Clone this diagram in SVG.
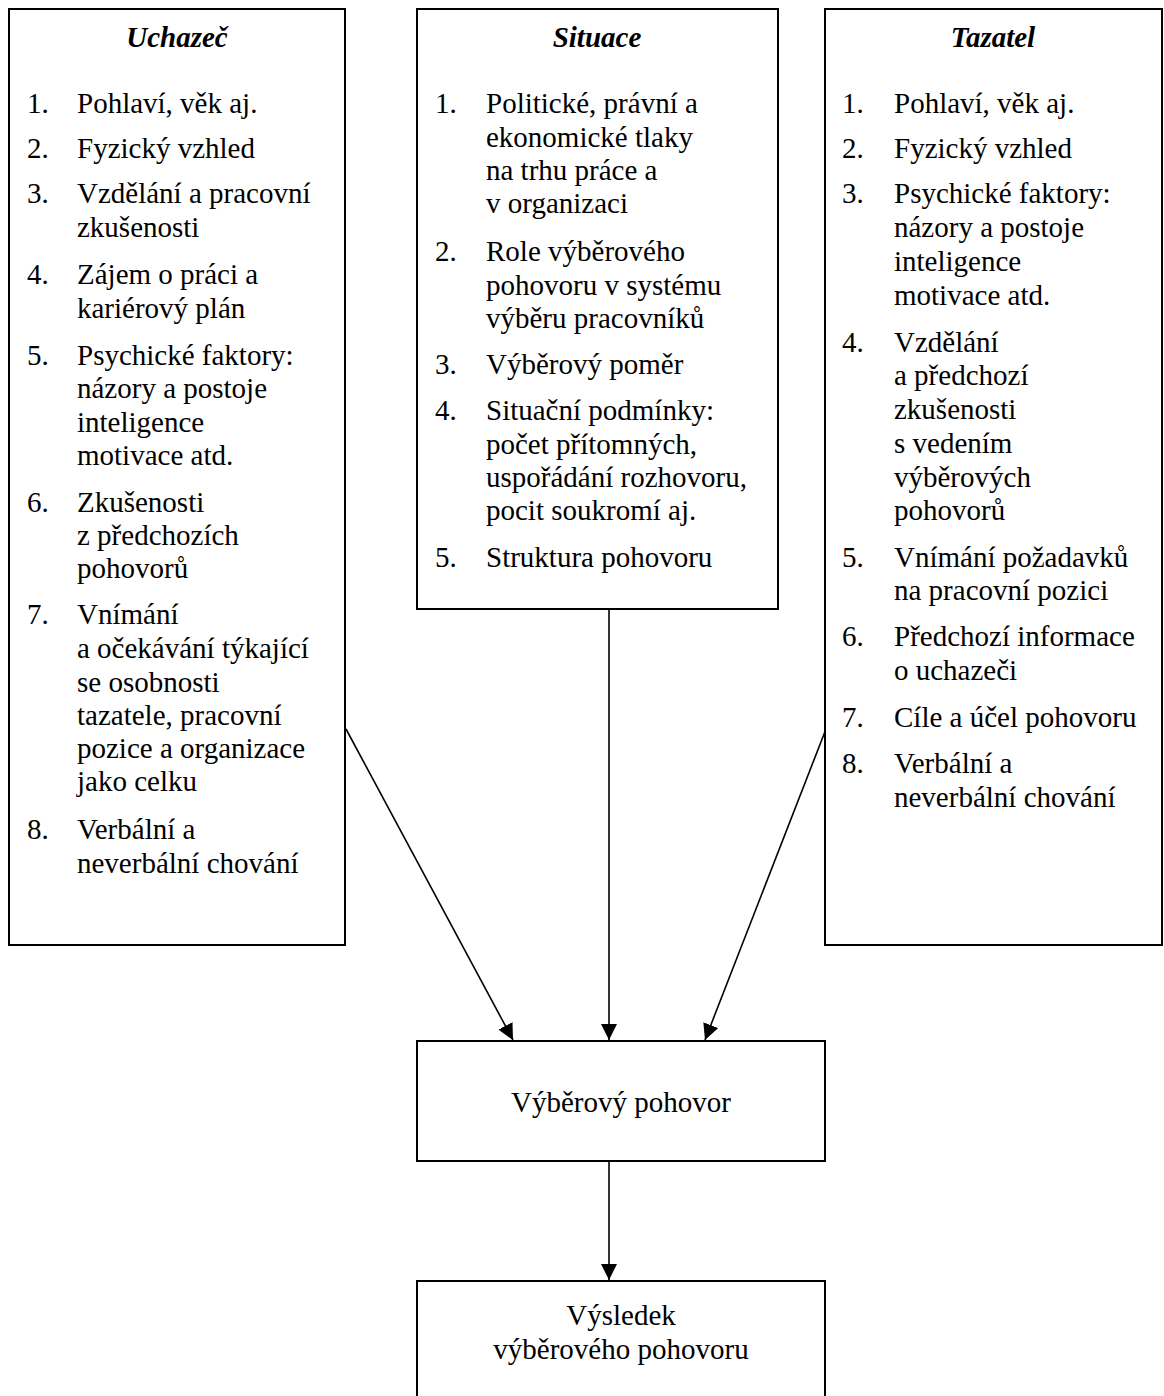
<svg xmlns="http://www.w3.org/2000/svg" width="1164" height="1396" viewBox="0 0 1164 1396">
<style>
  .box { fill: #ffffff; stroke: #000000; stroke-width: 2; }
  .t { font-family: "Liberation Serif", "Times New Roman", serif; font-size: 29px; fill: #000000; }
  .h { font-family: "Liberation Serif", "Times New Roman", serif; font-size: 29px; font-weight: bold; font-style: italic; fill: #000000; text-anchor: middle; }
  .c { text-anchor: middle; }
  .conn { stroke: #000000; stroke-width: 1.6; fill: none; }
</style>
<defs>
  <marker id="arrow" markerUnits="userSpaceOnUse" markerWidth="16" markerHeight="16" viewBox="0 0 16 16" refX="16" refY="8" orient="auto">
    <path d="M0,0 L16,8 L0,16 Z" fill="#000000"/>
  </marker>
</defs>
<rect width="1164" height="1396" fill="#ffffff"/>

<g id="connectors">
  <line class="conn" x1="346" y1="729" x2="513" y2="1040" marker-end="url(#arrow)"/>
  <line class="conn" x1="609" y1="609" x2="609" y2="1040" marker-end="url(#arrow)"/>
  <line class="conn" x1="826" y1="729" x2="705" y2="1040" marker-end="url(#arrow)"/>
  <line class="conn" x1="609" y1="1161" x2="609" y2="1280" marker-end="url(#arrow)"/>
</g>

<g id="uchazec">
  <rect class="box" x="9" y="9" width="336" height="936"/>
  <text class="h" x="177" y="47">Uchazeč</text>
  <text class="t" x="27" y="113">1.</text><text class="t" x="77" y="113">Pohlaví, věk aj.</text>
  <text class="t" x="27" y="158">2.</text><text class="t" x="77" y="158">Fyzický vzhled</text>
  <text class="t" x="27" y="203">3.</text><text class="t" x="77" y="203">Vzdělání a pracovní</text>
  <text class="t" x="77" y="237">zkušenosti</text>
  <text class="t" x="27" y="284">4.</text><text class="t" x="77" y="284">Zájem o práci a</text>
  <text class="t" x="77" y="318">kariérový plán</text>
  <text class="t" x="27" y="365">5.</text><text class="t" x="77" y="365">Psychické faktory:</text>
  <text class="t" x="77" y="398">názory a postoje</text>
  <text class="t" x="77" y="432">inteligence</text>
  <text class="t" x="77" y="465">motivace atd.</text>
  <text class="t" x="27" y="512">6.</text><text class="t" x="77" y="512">Zkušenosti</text>
  <text class="t" x="77" y="545">z předchozích</text>
  <text class="t" x="77" y="578">pohovorů</text>
  <text class="t" x="27" y="624">7.</text><text class="t" x="77" y="624">Vnímání</text>
  <text class="t" x="77" y="658">a očekávání týkající</text>
  <text class="t" x="77" y="692">se osobnosti</text>
  <text class="t" x="77" y="725">tazatele, pracovní</text>
  <text class="t" x="77" y="758">pozice a organizace</text>
  <text class="t" x="77" y="791">jako celku</text>
  <text class="t" x="27" y="839">8.</text><text class="t" x="77" y="839">Verbální a</text>
  <text class="t" x="77" y="873">neverbální chování</text>
</g>

<g id="situace">
  <rect class="box" x="417" y="9" width="361" height="600"/>
  <text class="h" x="597" y="47">Situace</text>
  <text class="t" x="435" y="113">1.</text><text class="t" x="486" y="113">Politické, právní a</text>
  <text class="t" x="486" y="147">ekonomické tlaky</text>
  <text class="t" x="486" y="180">na trhu práce a</text>
  <text class="t" x="486" y="213">v organizaci</text>
  <text class="t" x="435" y="261">2.</text><text class="t" x="486" y="261">Role výběrového</text>
  <text class="t" x="486" y="295">pohovoru v systému</text>
  <text class="t" x="486" y="328">výběru pracovníků</text>
  <text class="t" x="435" y="374">3.</text><text class="t" x="486" y="374">Výběrový poměr</text>
  <text class="t" x="435" y="420">4.</text><text class="t" x="486" y="420">Situační podmínky:</text>
  <text class="t" x="486" y="454">počet přítomných,</text>
  <text class="t" x="486" y="487">uspořádání rozhovoru,</text>
  <text class="t" x="486" y="520">pocit soukromí aj.</text>
  <text class="t" x="435" y="567">5.</text><text class="t" x="486" y="567">Struktura pohovoru</text>
</g>

<g id="tazatel">
  <rect class="box" x="825" y="9" width="337" height="936"/>
  <text class="h" x="993" y="47">Tazatel</text>
  <text class="t" x="842" y="113">1.</text><text class="t" x="894" y="113">Pohlaví, věk aj.</text>
  <text class="t" x="842" y="158">2.</text><text class="t" x="894" y="158">Fyzický vzhled</text>
  <text class="t" x="842" y="203">3.</text><text class="t" x="894" y="203">Psychické faktory:</text>
  <text class="t" x="894" y="237">názory a postoje</text>
  <text class="t" x="894" y="271">inteligence</text>
  <text class="t" x="894" y="305">motivace atd.</text>
  <text class="t" x="842" y="352">4.</text><text class="t" x="894" y="352">Vzdělání</text>
  <text class="t" x="894" y="385">a předchozí</text>
  <text class="t" x="894" y="419">zkušenosti</text>
  <text class="t" x="894" y="453">s vedením</text>
  <text class="t" x="894" y="487">výběrových</text>
  <text class="t" x="894" y="520">pohovorů</text>
  <text class="t" x="842" y="567">5.</text><text class="t" x="894" y="567">Vnímání požadavků</text>
  <text class="t" x="894" y="600">na pracovní pozici</text>
  <text class="t" x="842" y="646">6.</text><text class="t" x="894" y="646">Předchozí informace</text>
  <text class="t" x="894" y="680">o uchazeči</text>
  <text class="t" x="842" y="727">7.</text><text class="t" x="894" y="727">Cíle a účel pohovoru</text>
  <text class="t" x="842" y="773">8.</text><text class="t" x="894" y="773">Verbální a</text>
  <text class="t" x="894" y="807">neverbální chování</text>
</g>

<g id="pohovor">
  <rect class="box" x="417" y="1041" width="408" height="120"/>
  <text class="t c" x="621" y="1112">Výběrový pohovor</text>
</g>

<g id="vysledek">
  <rect class="box" x="417" y="1281" width="408" height="140"/>
  <text class="t c" x="621" y="1325">Výsledek</text>
  <text class="t c" x="621" y="1359">výběrového pohovoru</text>
</g>
</svg>
